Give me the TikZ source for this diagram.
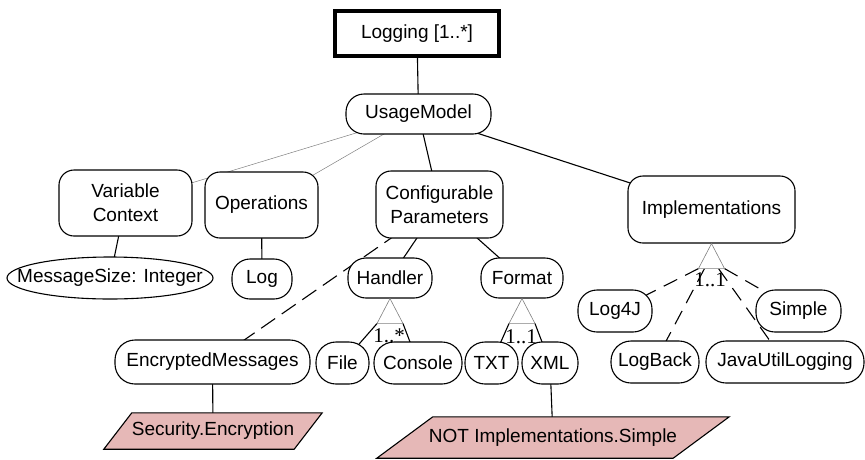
\documentclass[tikz,border=0pt]{standalone}
\usepackage{fontspec}
\setmainfont{Liberation Sans}
\newfontfamily\cardfont{Liberation Serif}
\usetikzlibrary{shapes.geometric,calc}
\pgfdeclarelayer{background}
\pgfsetlayers{background,main}
\definecolor{constraintpink}{HTML}{E6B8B7}
\tikzset{
  feat/.style={draw, fill=white, line width=1.1pt, inner sep=2pt,
    font=\fontsize{19}{24}\selectfont, align=center},
  roundbox/.style={feat, rounded corners=15pt},
  pill/.style={feat, rounded corners=19pt},
  rootbox/.style={feat, line width=3.2pt},
  attrtext/.style={inner sep=0pt, font=\fontsize{19}{24}\selectfont},
  attrshape/.style={draw, fill=white, line width=1.1pt},
  paratext/.style={inner sep=0pt, font=\fontsize{19}{24}\selectfont},
  parafill/.style={fill=constraintpink, draw, line width=1.1pt},
  link/.style={line width=1.1pt},
  optlink/.style={line width=0.5pt, gray},
  altlink/.style={line width=1.1pt, dash pattern=on 17pt off 8pt},
  orlink/.style={line width=1.1pt, dash pattern=on 15pt off 9pt},
  grouptri/.style={fill=white, draw=gray, line width=0.6pt},
  card/.style={inner sep=0pt, font=\cardfont\fontsize{21}{22}\selectfont}
}
\begin{document}
\begin{tikzpicture}[x=1pt, y=-1pt]
\useasboundingbox (0,0) rectangle (865,459);

% feature nodes
\node[rootbox, minimum width=164, minimum height=45] (root) at (417,33.5) {Logging [1..*]};
\node[pill, minimum width=145, minimum height=40, rounded corners=18pt] (um) at (418.5,114) {UsageModel};
\node[roundbox, minimum width=133, minimum height=66] (vc) at (125.5,203) {Variable\\Context};
\node[roundbox, minimum width=113, minimum height=66] (op) at (261.5,205) {Operations};
\node[roundbox, minimum width=127, minimum height=67] (cp) at (439.5,204.5) {Configurable\\Parameters};
\node[roundbox, minimum width=167, minimum height=67] (impl) at (711.5,209.5) {Implementations};
\node[attrtext, minimum width=206, minimum height=42] (msg) at (110,278) {MessageSize: Integer};
\node[pill, minimum width=60, minimum height=40, rounded corners=18pt] (log) at (262,279) {Log};
\node[pill, minimum width=84, minimum height=40, rounded corners=18pt] (handler) at (390,278) {Handler};
\node[pill, minimum width=82, minimum height=40, rounded corners=18pt] (format) at (522,278) {Format};
\node[pill, minimum width=74, minimum height=42] (log4j) at (615,311) {Log4J};
\node[pill, minimum width=85, minimum height=42] (simple) at (798.5,311) {Simple};
\node[pill, minimum width=195, minimum height=44, rounded corners=20pt] (enc) at (212.5,362) {EncryptedMessages};
\node[pill, minimum width=53, minimum height=42, rounded corners=20pt] (file) at (342.5,363) {File};
\node[pill, minimum width=88, minimum height=42, rounded corners=20pt] (console) at (418,363) {Console};
\node[pill, minimum width=53, minimum height=42, rounded corners=20pt] (txt) at (491.5,363) {TXT};
\node[pill, minimum width=56, minimum height=42, rounded corners=20pt] (xml) at (550,363) {XML};
\node[pill, minimum width=88, minimum height=42, rounded corners=20pt] (logback) at (655,362) {LogBack};
\node[pill, minimum width=158, minimum height=42, rounded corners=20pt] (jul) at (785,362) {JavaUtilLogging};

% cross-tree constraints (text; shapes drawn on the background layer)
\node[paratext, minimum width=190, minimum height=36] (sec) at (213,431) {Security.Encryption};
\node[paratext, minimum width=296, minimum height=41] (notsimple) at (553,437.5) {NOT Implementations.Simple};

% group triangles
\coordinate (h-apex) at (handler.south);
\coordinate (h-left) at ($(h-apex)+(-13,25)$);
\coordinate (h-right) at ($(h-apex)+(13,25)$);
\coordinate (f-apex) at (format.south);
\coordinate (f-left) at ($(f-apex)+(-13,25)$);
\coordinate (f-right) at ($(f-apex)+(13,25)$);
\coordinate (i-apex) at (impl.south);
\coordinate (i-left) at ($(i-apex)+(-13,25)$);
\coordinate (i-right) at ($(i-apex)+(13,25)$);
\coordinate (i-midleft) at ($(i-apex)+(-7,25)$);
\coordinate (i-midright) at ($(i-apex)+(7,25)$);

\draw[grouptri] (h-apex) -- (h-left) -- (h-right) -- cycle;
\draw[grouptri] (f-apex) -- (f-left) -- (f-right) -- cycle;
\draw[grouptri] (i-apex) -- (i-left) -- (i-right) -- cycle;

\node[card] (hcard) at (389,336) {1..*};
\node[card] (fcard) at (521,337) {1..1};
\node[card] (icard) at (710,280) {1..1};

\begin{pgfonlayer}{background}
  % tree edges, centre to centre; the filled nodes hide the inner parts
  \draw[link] (root.center) -- (um.center);
  \draw[optlink] (um.center) -- (vc.center);
  \draw[optlink] (um.center) -- (op.center);
  \draw[link] (um.center) -- (cp.center);
  \draw[link] (um.center) -- (impl.center);
  \draw[link] (vc.center) -- (msg.center);
  \draw[link] (op.center) -- (log.center);
  \draw[link] (cp.center) -- (handler.center);
  \draw[link] (cp.center) -- (format.center);
  \draw[altlink] (cp.center) -- (enc.center);
  \draw[link] (h-left) -- (file.center);
  \draw[link] (h-right) -- (console.center);
  \draw[link] (f-left) -- (txt.center);
  \draw[link] (f-right) -- (xml.center);
  \draw[orlink] (i-left) -- (log4j.center);
  \draw[orlink] (i-midleft) -- (logback.center);
  \draw[orlink] (i-midright) -- (jul.center);
  \draw[orlink] (i-right) -- (simple.center);
  \draw[link] (enc.center) -- (sec.center);
  \draw[link] (xml.center) -- (notsimple.center);
  % attribute ellipse
  \draw[attrshape] (msg.center) ellipse [x radius=103, y radius=21];
  % constraint parallelograms
  \draw[parafill] ([xshift=14]sec.north west) -- ([xshift=14]sec.north east)
    -- ([xshift=-14]sec.south east) -- ([xshift=-14]sec.south west) -- cycle;
  \draw[parafill] ([xshift=28]notsimple.north west) -- ([xshift=28]notsimple.north east)
    -- ([xshift=-28]notsimple.south east) -- ([xshift=-28]notsimple.south west) -- cycle;
\end{pgfonlayer}
\end{tikzpicture}
\end{document}
